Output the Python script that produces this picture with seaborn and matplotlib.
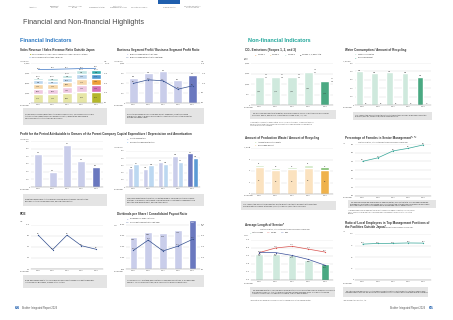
import textwrap
import numpy as np
import matplotlib.pyplot as plt
import seaborn as sns

# ---- data ----
years = ['2019', '2020', '2021', '2022', '2023']

# Sales revenue (100M yen), stacked by segment, and ratio outside Japan (%)
sales_seg_a = [2270, 2250, 2480, 2840, 2870]
sales_seg_b = [1330, 1320, 1480, 1700, 1720]
sales_seg_c = [1150, 1140, 1280, 1470, 1480]
sales_seg_d = [900, 895, 1010, 1160, 1170]
sales_seg_e = [722, 731, 859, 983, 989]
sales_ratio = [83.8, 84.3, 85.1, 86.0, 86.8]

# Business segment profit (100M yen) / ratio (%)
seg_profit = [628, 738, 792, 564, 704]
seg_profit_ratio = [9.8, 11.6, 11.1, 6.9, 8.6]

# Profit attributable to owners of the parent (100M yen)
owner_profit = [435, 202, 547, 345, 265]

# Capital expenditure / depreciation and amortization (100M yen)
capex = [262, 251, 353, 436, 469]
depreciation = [316, 305, 324, 353, 407]

# ROE (%)
roe = [9.7, 6.4, 9.7, 7.3, 6.5]

# Dividends per share (yen) / consolidated payout ratio (%)
dividends = [58, 67, 64, 70, 88]
payout = [33.5, 52.0, 32.5, 41.0, 53.5]

# CO2 emissions (1,000 t-CO2)
co2_scope3 = [1330, 1310, 1330, 1560, 1140]
co2_scope2 = [40, 38, 36, 34, 28]
co2_scope1 = [22, 21, 20, 19, 17]

# Water consumption / recycling (1,000 m3)
water = [400, 378, 387, 378, 335]
water_recycled = [3, 6, 5, 4, 8]

# Production waste / recycling (1,000 t)
waste_recycled = [4.7, 4.2, 4.3, 4.6, 4.2]
waste_other = [0.4, 0.4, 0.4, 0.5, 0.5]

# Females in senior management (%)
female_mgmt = [4.0, 4.4, 5.2, 5.5, 5.9]

# Average length of service (years)
service_total = [16.5, 16.5, 16.4, 15.5, 14.8]
service_female = [16.8, 17.6, 17.9, 17.4, 16.9]
service_male = [16.8, 16.8, 16.3, 15.6, 14.6]

# Ratio of local employees in top management outside Japan (%)
local_ratio = [78.0, 79.5, 79.8, 80.5, 80.2]

# ---- colours ----
LAV, LAV_D = '#c9cdea', '#6a78bf'
SKY, SKY_D = '#bcd8f1', '#5b9bd5'
MINT, MINT_D = '#cfe9dd', '#4aa982'
GRID = '#d4d4d4'
BOX = '#e4e4e4'
TXT = '#333333'

sns.set_theme(style='white')
plt.rcParams['font.family'] = ['Liberation Sans', 'DejaVu Sans']

W, H = 453, 320
fig = plt.figure(figsize=(W / 100, H / 100), dpi=100)
x = np.arange(len(years))


def px_axes(x0, y0, x1, y1):
    return fig.add_axes([x0 / W, 1 - y1 / H, (x1 - x0) / W, (y1 - y0) / H])


def txt(px, py, s, **kw):
    kw.setdefault('color', TXT)
    kw.setdefault('va', 'center')
    fig.text(px / W, 1 - py / H, s, **kw)


def note_box(x0, y0, x1, y1, s, width=78):
    ax = px_axes(x0, y0, x1, y1)
    ax.set_facecolor(BOX)
    for sp in ax.spines.values():
        sp.set_visible(False)
    ax.set_xticks([])
    ax.set_yticks([])
    ax.text(0.02, 0.5, textwrap.fill(s, width), fontsize=1.45, color=TXT,
            va='center', ha='left', linespacing=1.3, transform=ax.transAxes)


def pal(light, dark):
    return [light] * (len(years) - 1) + [dark]


def style(ax, ymin, ymax, step, fmt='{:,.0f}', left=True):
    ax.set_ylim(ymin, ymax)
    ticks = np.arange(ymin, ymax + step * 0.01, step)
    ax.set_yticks(ticks)
    ax.set_yticklabels([fmt.format(t) for t in ticks] if left else [])
    ax.set_xlim(-0.5, len(years) - 0.5)
    ax.set_xticks(x)
    ax.set_xticklabels(years)
    ax.tick_params(length=0, pad=1, labelsize=1.5, labelcolor='#555555')
    ax.grid(axis='y', color=GRID, linewidth=0.3)
    ax.set_axisbelow(True)
    for k in ['top', 'right', 'left']:
        ax.spines[k].set_visible(False)
    ax.spines['bottom'].set_color('#888888')
    ax.spines['bottom'].set_linewidth(0.3)
    ax.set_xlabel('')
    ax.set_ylabel('')


def right_axis(ax, ymax, step, fmt='{:.1f}'):
    ax2 = ax.twinx()
    ax2.set_ylim(0, ymax)
    ticks = np.arange(0, ymax + step * 0.01, step)
    ax2.set_yticks(ticks)
    ax2.set_yticklabels([fmt.format(t) for t in ticks])
    ax2.tick_params(length=0, pad=1, labelsize=1.5, labelcolor='#555555')
    for sp in ax2.spines.values():
        sp.set_visible(False)
    return ax2


def bar_labels(ax, vals, fmt='{:,.0f}', dy=0.0):
    for i, v in enumerate(vals):
        ax.text(i, v + dy, fmt.format(v), fontsize=1.4, ha='center', va='bottom', color=TXT)


def line(ax, vals, color, fmt='{:.1f}', dy=0.0):
    sns.lineplot(x=x, y=vals, ax=ax, color=color, linewidth=0.5, marker='o',
                 markersize=0.9, markeredgewidth=0)
    for i, v in enumerate(vals):
        ax.text(i, v + dy, fmt.format(v), fontsize=1.4, ha='center', va='bottom', color=TXT)
    ax.set_xlabel('')
    ax.set_ylabel('')


def legend_item(px, py, color, label, kind='sq'):
    if kind == 'sq':
        txt(px, py, '\u25a0', fontsize=1.6, color=color)
    else:
        txt(px - 0.8, py, '\u2014', fontsize=1.8, color=color)
    txt(px + 2.5, py, label, fontsize=1.4)


# ---- page header ----
nav = ['Introduction', 'Management\nPhilosophy', 'The Story of Value\nCreation',
       'Management Strategy', 'Sustainability\nManagement Initiatives',
       'Corporate Governance', 'Financial Section', 'Corporate Information /\nStock Information']
nav_x = [33, 55, 75, 97, 118, 139, 169, 192]
for nx, s in zip(nav_x, nav):
    txt(nx, 7, s, fontsize=1.2, ha='center', color='#777777', linespacing=1.1)
hdr = px_axes(158, 0, 180, 4)
hdr.set_facecolor('#1f5fae')
hdr.set_xticks([])
hdr.set_yticks([])
for sp in hdr.spines.values():
    sp.set_visible(False)

txt(23, 23, 'Financial and Non-financial Highlights', fontsize=5.2, color='#4a4a4a')
txt(20, 41, 'Financial Indicators', fontsize=4.0, weight='bold', color='#2b78c2')
txt(248, 41, 'Non-financial Indicators', fontsize=4.0, weight='bold', color='#22a79b')

# ---- Sales revenue ----
txt(20, 50, 'Sales Revenue / Sales Revenue Ratio Outside Japan', fontsize=2.2, weight='bold')
legend_item(30, 54, '#b5b82a', 'Sales revenue (L) (P&S / P&H / Machinery / N&C / Domino / Others)')
legend_item(30, 57.5, '#3a74c4', 'Sales revenue ratio outside Japan (R)', kind='line')
txt(20, 61, '(100M yen)', fontsize=1.3)
txt(104, 61, '(%)', fontsize=1.3)
ax = px_axes(31, 63, 103, 103)
segs = [sales_seg_a, sales_seg_b, sales_seg_c, sales_seg_d, sales_seg_e]
seg_cols = [('#e6e6a6', '#b4b72b'), ('#efc9e2', '#d571b6'), ('#f6d7a8', '#ee9f38'),
            ('#bcd6ee', '#4f98d2'), ('#bfe3e1', '#36aeb0')]
cum = np.cumsum(segs, axis=0)
for k in range(len(segs) - 1, -1, -1):
    sns.barplot(x=years, y=cum[k], hue=years, palette=pal(*seg_cols[k]), legend=False,
                ax=ax, width=0.72, saturation=1)
for k in range(len(segs)):
    base = cum[k] - np.array(segs[k])
    for i in range(len(years)):
        ax.text(i, base[i] + segs[k][i] / 2, f'{segs[k][i]:,}', fontsize=1.1,
                ha='center', va='center', color=TXT)
bar_labels(ax, cum[-1], dy=80)
style(ax, 0, 10000, 2500)
ax2 = right_axis(ax, 100, 25)
sns.lineplot(x=x, y=sales_ratio, ax=ax2, color='#3a74c4', linewidth=0.5)
for i, v in enumerate(sales_ratio):
    ax2.text(i, v + 2, f'{v:.1f}', fontsize=1.4, ha='center', va='bottom', color=TXT)
ax2.set_ylabel('')
txt(20, 105, 'Fiscal year', fontsize=1.3)
note_box(23, 108, 107, 125, 'Sales revenue was higher than the previous fiscal year. This was '
         'primarily due to the positive impact of foreign exchange rates, despite the decrease '
         'in sales of product units in the P&S Business.')

# ---- Business segment profit ----
txt(117, 50, 'Business Segment Profit / Business Segment Profit Ratio', fontsize=2.2, weight='bold')
legend_item(127, 54, LAV, 'Business segment profit (left axis)')
legend_item(127, 57.5, '#34508f', 'Business segment profit ratio (right axis)', kind='line')
txt(114, 61, '(100M yen)', fontsize=1.3)
txt(201, 61, '(%)', fontsize=1.3)
ax = px_axes(126, 63, 200, 103)
sns.barplot(x=years, y=seg_profit, hue=years, palette=pal(LAV, LAV_D), legend=False,
            ax=ax, width=0.6, saturation=1)
bar_labels(ax, seg_profit, dy=15)
style(ax, 0, 1000, 250)
ax2 = right_axis(ax, 20, 5)
line(ax2, seg_profit_ratio, '#34508f', dy=0.6)
txt(114, 105, 'Fiscal year', fontsize=1.3)
note_box(125, 108, 204, 124, 'Despite increases in personnel and SG&A expenses, profit increased '
         'significantly due to a decrease in logistics costs and the positive impact of foreign '
         'exchange rates.')

# ---- Profit attributable to owners ----
txt(20, 134, 'Profit for the Period Attributable to Owners of the Parent Company',
    fontsize=2.2, weight='bold')
txt(20, 139, '(100M yen)', fontsize=1.3)
ax = px_axes(31, 141, 103, 187)
sns.barplot(x=years, y=owner_profit, hue=years, palette=pal(LAV, LAV_D), legend=False,
            ax=ax, width=0.55, saturation=1)
bar_labels(ax, owner_profit, dy=8)
style(ax, 0, 600, 100)
txt(20, 189, 'Fiscal year', fontsize=1.3)
note_box(23, 194, 107, 206, 'Profit decreased due to the recording of impairment losses on part '
         'of the goodwill in the Domino Business, among other factors.')

# ---- Capex / depreciation ----
txt(117, 134, 'Capital Expenditure / Depreciation and Amortization', fontsize=2.2, weight='bold')
legend_item(127, 138.5, LAV, 'Capital expenditure')
legend_item(127, 142, SKY, 'Depreciation and amortization')
txt(114, 147, '(100M yen)', fontsize=1.3)
ax = px_axes(126, 151, 200, 187)
bw = 0.36
for i in range(len(years)):
    c1 = LAV_D if i == len(years) - 1 else LAV
    c2 = SKY_D if i == len(years) - 1 else SKY
    ax.bar(i - bw / 2, capex[i], width=bw, color=c1)
    ax.bar(i + bw / 2, depreciation[i], width=bw, color=c2)
    ax.text(i - bw / 2, capex[i] + 6, f'{capex[i]}', fontsize=1.2, ha='center', va='bottom', color=TXT)
    ax.text(i + bw / 2, depreciation[i] + 6, f'{depreciation[i]}', fontsize=1.2, ha='center',
            va='bottom', color=TXT)
style(ax, 0, 500, 100)
txt(114, 189, 'Fiscal year', fontsize=1.3)
note_box(125, 194, 204, 206, 'We have invested for the future, as established in our medium-term '
         'business strategy "CS B2024," with funds flowing towards investment in manufacturing '
         'facilities and development, among other areas.')

# ---- ROE ----
txt(20, 214, 'ROE', fontsize=2.2, weight='bold')
txt(20, 222, '(%)', fontsize=1.3)
ax = px_axes(31, 225, 103, 269)
line(ax, roe, '#34508f', dy=0.25)
style(ax, 2, 12, 2.5, fmt='{:.1f}')
txt(20, 271, 'Fiscal year', fontsize=1.3)
note_box(23, 275, 107, 288, 'ROE decreased due to the recording of impairment losses on a part '
         'of goodwill in the Domino Business, among other factors.')

# ---- Dividends ----
txt(117, 214, 'Dividends per Share / Consolidated Payout Ratio', fontsize=2.2, weight='bold')
legend_item(127, 218.5, LAV, 'Dividends per share (left axis)')
legend_item(127, 222, '#34508f', 'Consolidated payout ratio (right axis)', kind='line')
txt(114, 226, '(yen)', fontsize=1.3)
txt(201, 226, '(%)', fontsize=1.3)
ax = px_axes(126, 219, 200, 269)
sns.barplot(x=years, y=dividends, hue=years, palette=pal(LAV, LAV_D), legend=False,
            ax=ax, width=0.5, saturation=1)
for i, v in enumerate(dividends):
    ax.text(i, v - 4, f'{v:.2f}', fontsize=1.2, ha='center', va='top',
            color='white' if i == len(years) - 1 else TXT)
style(ax, 0, 90, 20, fmt='{:.2f}')
ax2 = right_axis(ax, 90, 20)
line(ax2, payout, '#34508f', dy=2)
txt(114, 271, 'Fiscal year', fontsize=1.3)
note_box(125, 275, 204, 287, 'Under our policy of stable and continuous shareholder returns, a '
         'dividend per share of 70 yen was instituted, up 2 yen from the previous fiscal year.')

# ---- CO2 ----
txt(245, 50, 'CO\u2082 Emissions (Scopes 1, 2, and 3)', fontsize=2.2, weight='bold')
legend_item(255, 54.5, '#f3c9a6', 'Scope 1')
legend_item(270, 54.5, '#f7e0b5', 'Scope 2')
legend_item(285, 54.5, MINT, 'Scope 3')
legend_item(300, 54.5, '#888888', 'Scopes 1, 2, and 3 total')
txt(244, 59, '(1,000\nt-CO\u2082)', fontsize=1.2, linespacing=1.0)
ax = px_axes(251, 63, 333, 105)
co2_cum1 = np.array(co2_scope3)
co2_cum2 = co2_cum1 + np.array(co2_scope2)
co2_cum3 = co2_cum2 + np.array(co2_scope1)
sns.barplot(x=years, y=co2_cum3, hue=years, palette=pal('#f3c9a6', '#ee9e7a'), legend=False,
            ax=ax, width=0.55, saturation=1)
sns.barplot(x=years, y=co2_cum2, hue=years, palette=pal('#f7e0b5', '#f2c47a'), legend=False,
            ax=ax, width=0.55, saturation=1)
sns.barplot(x=years, y=co2_cum1, hue=years, palette=pal(MINT, MINT_D), legend=False,
            ax=ax, width=0.55, saturation=1)
for i in range(len(years)):
    ax.text(i, co2_scope3[i] / 2, f'{co2_scope3[i]:,}', fontsize=1.2, ha='center', va='center',
            color=TXT)
    ax.text(i + 0.35, co2_cum3[i] + 40, f'{co2_scope1[i]}', fontsize=1.2, ha='left', va='bottom',
            color=TXT)
    ax.text(i + 0.35, co2_cum3[i] - 90, f'{co2_scope2[i]}', fontsize=1.2, ha='left', va='bottom',
            color=TXT)
style(ax, 0, 2000, 500)
txt(244, 107, 'Fiscal year', fontsize=1.3)
note_box(250, 110, 336, 119, 'The FY2030 medium-term target for CO\u2082 emissions is a 65% reduction '
         'from FY2015 for Scopes 1 and 2, and a 30% reduction for Scope 3 (C1, 11, 12).', width=84)
txt(250, 124, textwrap.fill('*1 Calculated based on the GHG Protocol. Scope 3 covers categories 1, '
                            '11 and 12 of the main business sites of the Brother Group. Figures '
                            'for past fiscal years have been revised due to a review of the '
                            'calculation method.', 96),
    fontsize=1.1, color='#555555', linespacing=1.2)

# ---- Water ----
txt(345, 50, 'Water Consumption / Amount of Recycling', fontsize=2.2, weight='bold')
legend_item(355, 54, MINT, 'Water consumption')
legend_item(355, 57.5, '#9fd5c4', 'Recycled amount')
txt(343, 61, '(1,000 m\u00b3)', fontsize=1.2)
ax = px_axes(355, 63, 431, 105)
bw = 0.44
for i in range(len(years)):
    last = i == len(years) - 1
    ax.bar(i - bw / 2, water[i], width=bw, color=MINT_D if last else MINT)
    ax.bar(i + bw / 2, water_recycled[i], width=bw, color='#7fc8ab' if last else '#bfe3d3')
    ax.text(i - bw / 2, water[i] + 6, f'{water[i]}', fontsize=1.2, ha='center', va='bottom', color=TXT)
    ax.text(i + bw / 2, water_recycled[i] + 6, f'{water_recycled[i] / 10:.1f}', fontsize=1.2,
            ha='center', va='bottom', color=TXT)
style(ax, 0, 500, 100)
txt(343, 107, 'Fiscal year', fontsize=1.3)
note_box(353, 112, 432, 120, 'In FY2023, the amount of water intake to the Brother Group\'s main '
         'business sites was 335,000 m\u00b3, of which 8,000 m\u00b3 was recycled.', width=80)

# ---- Production waste ----
txt(245, 138, 'Amount of Production Waste / Amount of Recycling', fontsize=2.2, weight='bold')
legend_item(255, 142, '#cfe8c4', 'Amount of production waste')
legend_item(255, 145, '#fbe2bf', 'Recyclable amount')
txt(244, 147, '(1,000 t)', fontsize=1.2)
ax = px_axes(251, 148, 333, 194)
waste_total = np.array(waste_recycled) + np.array(waste_other)
sns.barplot(x=years, y=waste_total, hue=years, palette=pal('#cfe8c4', '#7cbb69'), legend=False,
            ax=ax, width=0.55, saturation=1)
sns.barplot(x=years, y=waste_recycled, hue=years, palette=pal('#fbe2bf', '#efb24c'), legend=False,
            ax=ax, width=0.55, saturation=1)
for i in range(len(years)):
    ax.text(i, waste_total[i] + 0.05, f'{waste_total[i]:.1f}', fontsize=1.2, ha='center',
            va='bottom', color=TXT)
    ax.text(i, waste_recycled[i] / 2, f'{waste_recycled[i]:.1f}', fontsize=1.2, ha='center',
            va='center', color=TXT)
style(ax, 0, 8, 2)
txt(244, 196, 'Fiscal year', fontsize=1.3)
note_box(241, 201, 336, 210, 'In FY2023, the amount of production waste directly related to '
         'products at the Brother Group\'s main business sites was 4,700 t, of which 4,200 t '
         'was recycled.', width=90)

# ---- Females in senior management ----
txt(345, 138, 'Percentage of Females in Senior Management*\u00b9 *\u00b2', fontsize=2.2, weight='bold')
txt(358, 142, '(Brother Industries, Ltd.) (Data effective as of March 31 of each year)', fontsize=1.2)
txt(343, 143, '(%)', fontsize=1.2)
ax = px_axes(355, 144, 431, 196)
line(ax, female_mgmt, '#35a597', dy=0.12)
style(ax, 0, 6, 1, fmt='{:.1f}')
txt(343, 198, 'Fiscal year', fontsize=1.3)
note_box(348, 200, 436, 208, 'The number of female employees is approximately 25% of the total. '
         'The number of female managers has steadily increased as a result of setting a target '
         'number of female managers and implementing various measures to encourage career '
         'development.', width=92)
txt(348, 212, textwrap.fill('*1 Includes employees holding positions of section manager or higher. '
                            '*2 Data for FY2023 is as of April 1, 2024. Figures for past fiscal '
                            'years have been revised due to a change in the calculation standard.', 100),
    fontsize=1.1, color='#555555', linespacing=1.2)

# ---- Average length of service ----
txt(245, 225, 'Average Length of Service*', fontsize=2.2, weight='bold')
txt(260, 229, '(Brother Industries, Ltd.) (Data effective as of March 31 of each year)', fontsize=1.2)
legend_item(250, 232.5, MINT, 'Total average')
legend_item(268, 232.5, '#d9534f', 'Female', kind='line')
legend_item(282, 232.5, '#3a4f9a', 'Male', kind='line')
txt(244, 236, '(Years)', fontsize=1.2)
ax = px_axes(251, 240, 333, 280)
sns.barplot(x=years, y=service_total, hue=years, palette=pal(MINT, MINT_D), legend=False,
            ax=ax, width=0.5, saturation=1)
for i, v in enumerate(service_total):
    ax.text(i, v - 0.15, f'{v:.1f}', fontsize=1.2, ha='center', va='top', color=TXT)
line(ax, service_female, '#d9534f', dy=0.15)
line(ax, service_male, '#3a4f9a', dy=-0.5)
style(ax, 12, 19, 1.4, fmt='{:.1f}')
txt(244, 283, 'Fiscal year', fontsize=1.3)
note_box(250, 287, 335, 297, 'The average length of service decreased due to an increase in the '
         'number of employees hired mid-career. However, it is still higher than the national '
         'average of 12.4 years in the same industry surveyed by the Ministry of Health, Labour '
         'and Welfare.', width=92)
txt(250, 300, '* Does not include employees seconded from other companies or retired reemployed staff.',
    fontsize=1.1, color='#555555')

# ---- Local employees ----
txt(345, 223, 'Ratio of Local Employees in Top Management Positions of', fontsize=2.2, weight='bold')
txt(345, 227, 'the Facilities Outside Japan*', fontsize=2.2, weight='bold')
txt(383, 227, '(Data effective as of June 1 of each year)', fontsize=1.2)
txt(343, 232, '(%)', fontsize=1.2)
ax = px_axes(355, 234, 431, 280)
line(ax, local_ratio, '#35a597', fmt='{:.1f}', dy=1.5)
style(ax, 0, 100, 25)
txt(343, 283, 'Fiscal year', fontsize=1.3)
note_box(343, 287, 428, 297, 'The ratio of local employees in top management positions of the '
         'facilities outside Japan has reached nearly 80% as we promote management that connects '
         'both local and global strengths.', width=92)
txt(343, 300, '* Excluding Brother Industries, Ltd.', fontsize=1.1, color='#555555')

# ---- footers ----
txt(15, 308, '64', fontsize=3.2, weight='bold', color='#1f5fae')
txt(22, 308, 'Brother Integrated Report 2024', fontsize=1.8, color='#555555')
txt(425, 308, 'Brother Integrated Report 2024', fontsize=1.8, color='#555555', ha='right')
txt(429, 308, '65', fontsize=3.2, weight='bold', color='#1f5fae')

plt.savefig('out.png', dpi=100)
plt.close()
